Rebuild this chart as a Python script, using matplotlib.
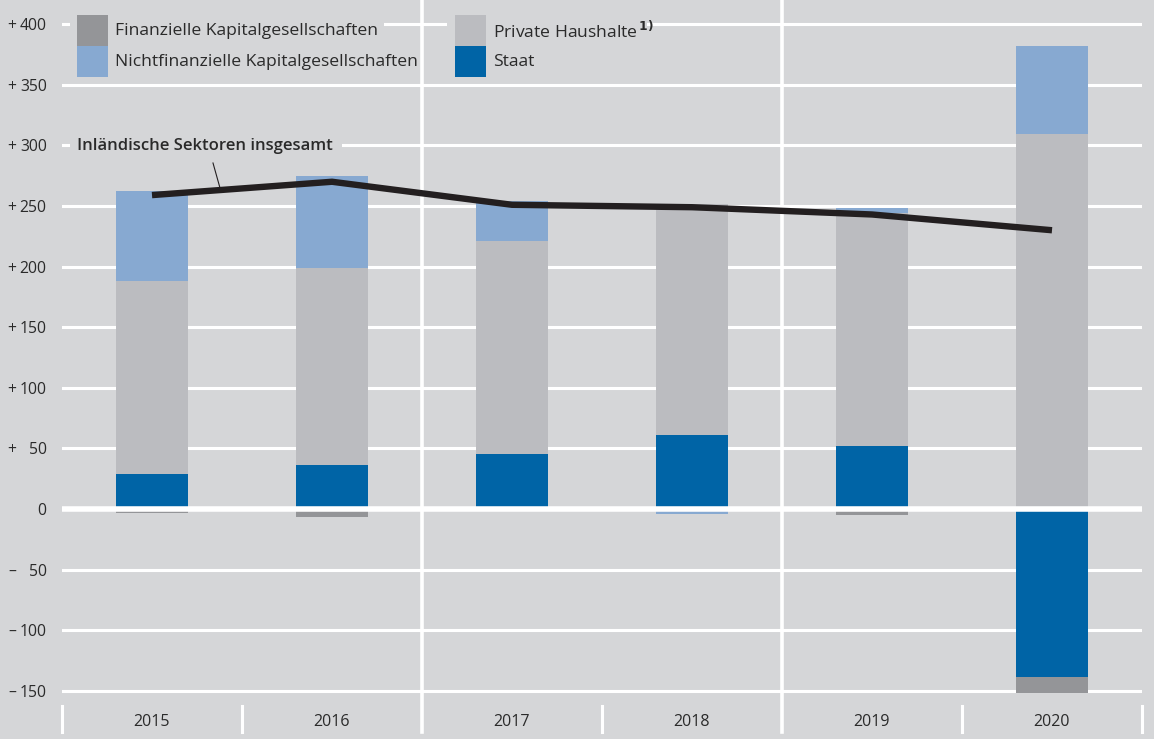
import numpy as np
import matplotlib
matplotlib.use("Agg")
import matplotlib.pyplot as plt
from matplotlib.patches import Rectangle
from matplotlib.lines import Line2D

plt.rcParams['font.family'] = ['Open Sans', 'DejaVu Sans']

# Daten (Mrd Euro)
jahre = ['2015', '2016', '2017', '2018', '2019', '2020']
staat = [29, 36, 45, 61, 52, -139]
private_haushalte = [159, 163, 176, 191, 192, 309]
nichtfinanzielle = [74, 76, 33, -4, 4, 73]
finanzielle = [-3, -7, -2, 0, -5, -13]
insgesamt = [259, 270, 251, 249, 243, 230]

yticks = [400, 350, 300, 250, 200, 150, 100, 50, 0, -50, -100, -150]
ytick_labels = ['400', '350', '300', '250', '200', '150', '100', '50', '0', '50', '100', '150']
ytick_signs = ['+', '+', '+', '+', '+', '+', '+', '+', '', '\u2013', '\u2013', '\u2013']

bg = '#d5d6d8'
c_fin = '#949598'
c_priv = '#bbbcc0'
c_nfin = '#87a9d1'
c_staat = '#0064a6'
c_line = '#231f20'
txt = '#2a2a2a'

W, H = 1154, 739
fig = plt.figure(figsize=(W / 100, H / 100), dpi=100)
fig.patch.set_facecolor(bg)
ax = fig.add_axes([62 / W, 0, 1080 / W, 1])
ax.set_facecolor(bg)

zero_px, k = 509.0, 1.212
ax.set_xlim(-0.5, 5.5)
ax.set_ylim((zero_px - H) / k, zero_px / k)

x = np.arange(len(jahre))
bw = 0.4

# Stapel: positive nach oben, negative nach unten
pos_base = np.zeros(len(x))
neg_base = np.zeros(len(x))
for vals, col in [(staat, c_staat), (private_haushalte, c_priv),
                  (nichtfinanzielle, c_nfin), (finanzielle, c_fin)]:
    v = np.array(vals, dtype=float)
    bottoms = np.where(v >= 0, pos_base, neg_base)
    ax.bar(x, v, bw, bottom=bottoms, color=col, zorder=3, linewidth=0)
    pos_base = pos_base + np.where(v >= 0, v, 0)
    neg_base = neg_base + np.where(v < 0, v, 0)

# Gitternetz
for t in yticks:
    if t == 0:
        ax.axhline(0, color='white', lw=4, zorder=4)
    else:
        ax.axhline(t, color='white', lw=2.2, zorder=1)

sep_lo = (zero_px - 732) / k
sep_hi = (zero_px - 706) / k
for xs in [-0.5, 0.5, 2.5, 4.5, 5.5]:
    ax.plot([xs, xs], [sep_lo, sep_hi], color='white', lw=2.2, clip_on=False, zorder=1)
for xs in [1.5, 3.5]:
    ax.plot([xs, xs], [sep_lo, 500], color='white', lw=2.6, zorder=1)

ax.plot(x, insgesamt, color=c_line, lw=4.6, zorder=6, solid_capstyle='butt', solid_joinstyle='miter')

ax.set_yticks(yticks)
ax.set_yticklabels(ytick_labels)
ax.tick_params(axis='y', length=0, pad=11, labelsize=11.3, labelcolor=txt)
ax.set_xticks([])
for s in ax.spines.values():
    s.set_visible(False)

# Vorzeichen links
for t, sg in zip(yticks, ytick_signs):
    if sg:
        fig.text(12 / W, 1 - (zero_px - t * k) / H, sg, ha='center', va='center_baseline',
                 fontsize=11.3, color=txt)

label_y = (zero_px - 722) / k
for xi, j in zip(x, jahre):
    ax.text(xi, label_y, j, ha='center', va='center', fontsize=11.5, color=txt)

# Legende
def px(xp, yp):
    return xp / W, 1 - yp / H

def rect(x0, y0, w, h, col, z=7):
    fig.patches.append(Rectangle(px(x0, y0 + h), w / W, h / H, transform=fig.transFigure,
                                 facecolor=col, edgecolor='none', zorder=z))

rect(70, 8, 314, 72, bg, 5)
rect(447, 8, 200, 72, bg, 5)
rect(70, 130, 272, 30, bg, 5)

legend_items = [(77, 15, c_fin, 'Finanzielle Kapitalgesellschaften'),
                (77, 46, c_nfin, 'Nichtfinanzielle Kapitalgesellschaften'),
                (455, 15, c_priv, 'Private Haushalte$^{\\,\\mathbf{1)}}$'),
                (455, 46, c_staat, 'Staat')]
for lx, ly, col, lab in legend_items:
    rect(lx, ly, 31, 31, col)
    fig.text(*px(lx + 38, ly + 16), lab, ha='left', va='center', fontsize=12.6, color=txt, zorder=8)

fig.text(*px(77, 146), 'Inländische Sektoren insgesamt', ha='left', va='center',
         fontsize=12, color=txt, fontweight='semibold', zorder=8)
fig.lines.append(Line2D([213 / W, 220 / W], [1 - 163 / H, 1 - 188 / H], transform=fig.transFigure,
                        color=c_line, lw=0.8, zorder=8))

fig.savefig('out.png', dpi=100, facecolor=bg)
